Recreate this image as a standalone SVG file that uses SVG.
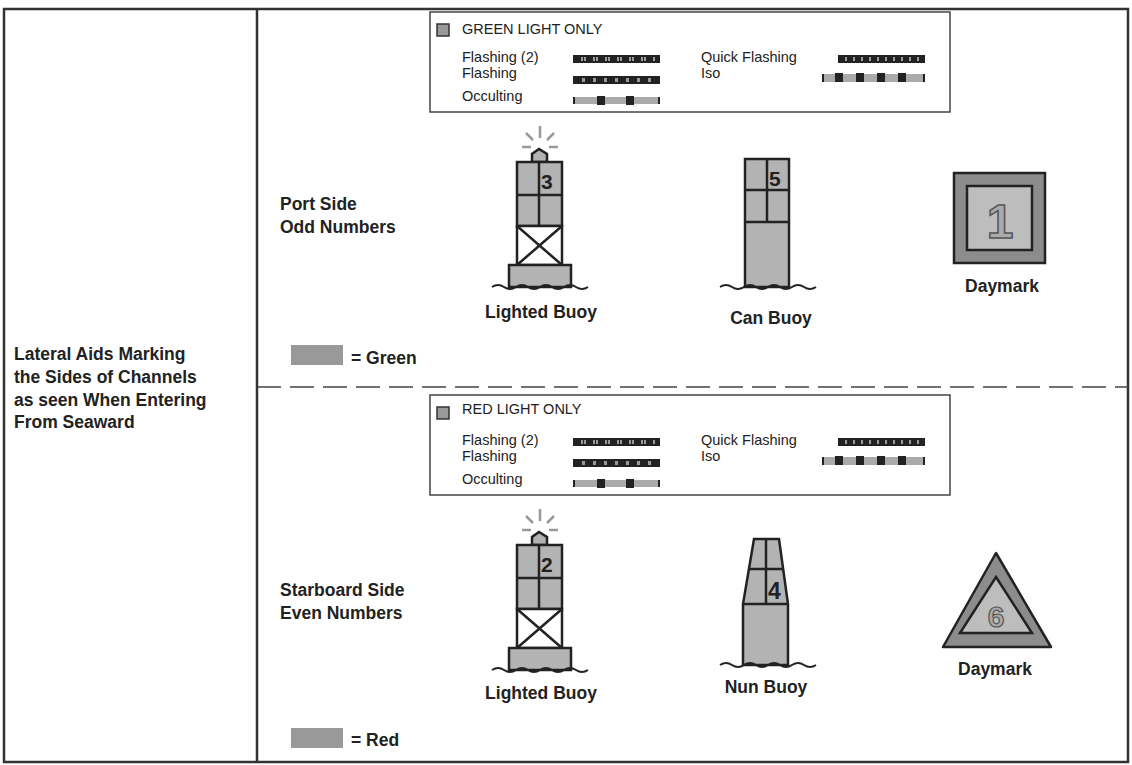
<svg xmlns="http://www.w3.org/2000/svg" width="1132" height="765" viewBox="0 0 1132 765">
<style>
.t{font-family:"Liberation Sans",Arial,sans-serif;fill:#222}
.b{font-weight:bold;font-size:17.5px}
.s{font-size:14.5px}
.f{fill:#b3b3b3;stroke:#222;stroke-width:2.5}
.l{stroke:#222;stroke-width:2.5;fill:none}
.d{fill:#222}
.g{fill:#aaa}
.w{fill:none;stroke:#222;stroke-width:2}
.ray{stroke:#999;stroke-width:2.5}
</style>
<defs>
<g id="legend">
<rect x="0" y="0" width="520" height="100" fill="#fff" stroke="#444" stroke-width="1.5"/>
<rect x="7" y="12" width="12" height="12" fill="#999" stroke="#333" stroke-width="1.5"/>
<text class="t s" x="32" y="50">Flashing (2)</text>
<text class="t s" x="32" y="66">Flashing</text>
<text class="t s" x="32" y="89">Occulting</text>
<text class="t s" x="271" y="50">Quick Flashing</text>
<text class="t s" x="271" y="66">Iso</text>
<rect x="143" y="43" width="87" height="8" class="d"/>
<path d="M151 47h2M154 47h2M163 47h2M166 47h2M175 47h2M178 47h2M187 47h2M190 47h2M199 47h2M202 47h2M211 47h2M214 47h2M223 47h2" stroke="#999" stroke-width="4"/>
<rect x="143" y="64" width="87" height="8" class="d"/>
<path d="M152 68h3M163 68h3M174 68h3M185 68h3M196 68h3M207 68h3M218 68h3" stroke="#999" stroke-width="4"/>
<rect x="143" y="85" width="87" height="7" class="g"/>
<rect x="143" y="85" width="2" height="7" class="d"/><rect x="167" y="84" width="8" height="9" class="d"/><rect x="196" y="84" width="8" height="9" class="d"/><rect x="228" y="85" width="2" height="7" class="d"/>
<rect x="408" y="43" width="87" height="8" class="d"/>
<path d="M415 47h2M423 47h2M431 47h2M439 47h2M447 47h2M455 47h2M463 47h2M471 47h2M479 47h2M487 47h2" stroke="#999" stroke-width="4"/>
<rect x="392" y="62" width="103" height="8" class="g"/>
<rect x="392" y="62" width="2" height="8" class="d"/><rect x="405" y="61" width="8" height="9" class="d"/><rect x="426" y="61" width="8" height="9" class="d"/><rect x="447" y="61" width="8" height="9" class="d"/><rect x="468" y="61" width="8" height="9" class="d"/><rect x="493" y="62" width="2" height="8" class="d"/>
</g>
<g id="lb">
<path class="ray" d="M540 126v12M526 133l7 7M554 133l-7 7M522 147h9M549 147h9"/>
<path class="f" d="M532 162v-8l7-5l8 5v8z"/>
<rect class="f" x="517" y="162" width="45" height="64"/>
<path class="l" d="M517 195h45M539 162v64"/>
<rect x="517" y="226" width="45" height="39" fill="#fff" stroke="#222" stroke-width="2.5"/>
<path class="l" d="M517 226l45 39M562 226l-45 39"/>
<rect class="f" x="509" y="265" width="62" height="22"/>
<path class="w" d="M492 287q6-4 12 0t12 0t12 0t12 0t12 0t12 0t12 0t12 0"/>
</g>
</defs>
<rect x="4" y="9" width="1124" height="753" fill="#fff" stroke="#333" stroke-width="2.5"/>
<line x1="257" y1="9" x2="257" y2="762" stroke="#333" stroke-width="2.5"/>
<line x1="257" y1="387" x2="1128" y2="387" stroke="#444" stroke-width="1.5" stroke-dasharray="24,9"/>
<g id="left-label">
<text class="t b" x="14" y="360">Lateral Aids Marking</text>
<text class="t b" x="14" y="383">the Sides of Channels</text>
<text class="t b" x="14" y="406">as seen When Entering</text>
<text class="t b" x="14" y="428">From Seaward</text>
</g>
<g id="green-legend">
<use href="#legend" x="430" y="12"/>
<text class="t s" x="462" y="34">GREEN LIGHT ONLY</text>
</g>
<g id="red-legend">
<use href="#legend" x="430" y="395"/>
<text class="t s" x="462" y="414">RED LIGHT ONLY</text>
</g>
<g id="port-label">
<text class="t b" x="280" y="210">Port Side</text>
<text class="t b" x="280" y="233">Odd Numbers</text>
</g>
<g id="lighted-buoy-3">
<use href="#lb"/>
<text class="t" x="541" y="189" font-size="21" font-weight="bold">3</text>
<text class="t b" x="541" y="318" text-anchor="middle">Lighted Buoy</text>
</g>
<g id="can-buoy">
<rect class="f" x="745" y="159" width="44" height="128"/>
<path class="l" d="M745 190h44M745 222h44M767 159v63"/>
<path class="w" d="M720 287q6-4 12 0t12 0t12 0t12 0t12 0t12 0t12 0t12 0"/>
<text class="t" x="769" y="186" font-size="21" font-weight="bold">5</text>
<text class="t b" x="771" y="324" text-anchor="middle">Can Buoy</text>
</g>
<g id="daymark-1">
<rect x="954" y="173" width="91" height="90" fill="#8c8c8c" stroke="#222" stroke-width="2.5"/>
<rect x="967" y="186" width="65" height="64" fill="#bdbdbd" stroke="#222" stroke-width="2.5"/>
<text x="1000" y="238" font-family="Liberation Sans,Arial,sans-serif" font-size="48" font-weight="bold" text-anchor="middle" fill="#aaa" stroke="#555" stroke-width="1.5">1</text>
<text class="t b" x="1002" y="292" text-anchor="middle">Daymark</text>
</g>
<g id="green-key">
<rect x="291" y="345" width="52" height="20" fill="#999"/>
<text class="t b" x="351" y="364">= Green</text>
</g>
<g id="starboard-label">
<text class="t b" x="280" y="596">Starboard Side</text>
<text class="t b" x="280" y="619">Even Numbers</text>
</g>
<g id="lighted-buoy-2">
<use href="#lb" y="383"/>
<text class="t" x="541" y="572" font-size="21" font-weight="bold">2</text>
<text class="t b" x="541" y="699" text-anchor="middle">Lighted Buoy</text>
</g>
<g id="nun-buoy">
<path class="f" d="M754 539h25l9 65v61h-45v-61z"/>
<path class="l" d="M750 569h33M743 604h45M766 539v65"/>
<path class="w" d="M720 665q6-4 12 0t12 0t12 0t12 0t12 0t12 0t12 0t12 0"/>
<text class="t" x="768" y="599" font-size="23" font-weight="bold">4</text>
<text class="t b" x="766" y="693" text-anchor="middle">Nun Buoy</text>
</g>
<g id="daymark-6">
<path d="M996 553l55 94h-108z" fill="#8c8c8c" stroke="#222" stroke-width="2.5" stroke-linejoin="round"/>
<path d="M996 577l36 56h-72z" fill="#bdbdbd" stroke="#222" stroke-width="2.5"/>
<text x="996" y="627" font-family="Liberation Sans,Arial,sans-serif" font-size="30" font-weight="bold" text-anchor="middle" fill="#aaa" stroke="#555" stroke-width="1.2">6</text>
<text class="t b" x="995" y="675" text-anchor="middle">Daymark</text>
</g>
<g id="red-key">
<rect x="291" y="728" width="52" height="20" fill="#999"/>
<text class="t b" x="351" y="746">= Red</text>
</g>
<g id="connectors"></g>
</svg>
